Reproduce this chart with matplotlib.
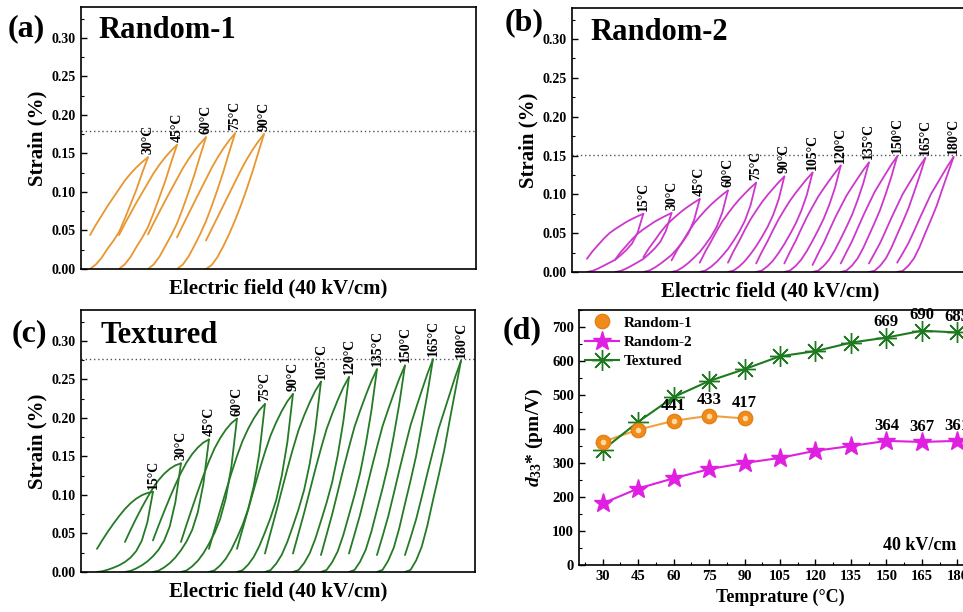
import matplotlib
matplotlib.use('Agg')
import matplotlib.pyplot as plt
import numpy as np
from matplotlib.ticker import MultipleLocator, FormatStrFormatter

plt.rcParams['font.family'] = ['Liberation Serif', 'DejaVu Serif']
plt.rcParams['font.weight'] = 'bold'
plt.rcParams['axes.labelweight'] = 'bold'
plt.rcParams['mathtext.fontset'] = 'custom'
plt.rcParams['mathtext.rm'] = 'Liberation Serif:bold'
plt.rcParams['mathtext.it'] = 'Liberation Serif:italic:bold'
plt.rcParams['mathtext.bf'] = 'Liberation Serif:bold'

# ---------------- data ----------------
# panel (a) Random-1
temps_a = [30, 45, 60, 75, 90]
peaks_a = [0.145, 0.161, 0.171, 0.176, 0.175]
remnant_a = [0.044, 0.044, 0.045, 0.041, 0.037]
level_a = 0.179

# panel (b) Random-2
temps_b = [15, 30, 45, 60, 75, 90, 105, 120, 135, 150, 165, 180]
peaks_b = [0.075, 0.076, 0.094, 0.105, 0.115, 0.123, 0.128, 0.137, 0.141, 0.149, 0.147, 0.148]
remnant_b = [0.017, 0.016, 0.019, 0.015, 0.012, 0.012, 0.011, 0.011, 0.009, 0.011, 0.011, 0.012]
level_b = 0.151

# panel (c) Textured
temps_c = [15, 30, 45, 60, 75, 90, 105, 120, 135, 150, 165, 180]
peaks_c = [0.104, 0.141, 0.172, 0.199, 0.218, 0.231, 0.247, 0.253, 0.263, 0.268, 0.276, 0.274]
remnant_c = [0.030, 0.039, 0.041, 0.039, 0.030, 0.030, 0.024, 0.024, 0.022, 0.024, 0.022, 0.022]
level_c = 0.276

# loop shapes (normalised field -> normalised strain)
field_grid = [0.0, 0.1, 0.2, 0.3, 0.4, 0.5, 0.6, 0.7, 0.8, 0.9, 1.0]
asc_a_low = [0, 0.04, 0.10, 0.18, 0.25, 0.33, 0.45, 0.58, 0.71, 0.86, 1.0]
asc_a_high = [0, 0.03, 0.09, 0.17, 0.26, 0.36, 0.47, 0.59, 0.72, 0.86, 1.0]
desc_a_low = [0, 0.13, 0.25, 0.37, 0.48, 0.59, 0.70, 0.79, 0.87, 0.94, 1.0]
desc_a_high = [0, 0.11, 0.22, 0.33, 0.44, 0.55, 0.66, 0.76, 0.85, 0.93, 1.0]
asc_b_low = [0, 0.02, 0.06, 0.11, 0.16, 0.21, 0.29, 0.38, 0.49, 0.68, 1.0]
desc_b_low = [0, 0.17, 0.31, 0.45, 0.57, 0.66, 0.74, 0.82, 0.885, 0.945, 1.0]
asc_c_low = [0, 0.01, 0.03, 0.055, 0.085, 0.125, 0.18, 0.26, 0.39, 0.62, 1.0]
desc_c_low = [0, 0.16, 0.31, 0.45, 0.58, 0.70, 0.80, 0.88, 0.94, 0.98, 1.0]
asc_high = [0, 0.01, 0.055, 0.12, 0.22, 0.34, 0.455, 0.575, 0.72, 0.86, 1.0]
desc_high = [0, 0.09, 0.185, 0.30, 0.42, 0.535, 0.65, 0.74, 0.83, 0.92, 1.0]

# panel (d)
temps_r1 = [30, 45, 60, 75, 90]
d33_r1 = [362, 398, 424, 439, 431]
temps_d = [30, 45, 60, 75, 90, 105, 120, 135, 150, 165, 180]
d33_r2 = [181, 225, 255, 282, 300, 315, 336, 350, 365, 362, 365]
d33_tex = [338, 421, 494, 541, 576, 614, 629, 654, 669, 689, 684]
ann_r1_T = [60, 75, 90]
ann_r1_txt = ['441', '433', '417']
ann_r2_T = [150, 165, 180]
ann_r2_txt = ['364', '367', '361']
ann_tex_T = [150, 165, 180]
ann_tex_txt = ['669', '690', '685']

# ---------------- figure ----------------
W, H = 963, 612
fig = plt.figure(figsize=(W / 100, H / 100), dpi=100)


def ax_px(l, t, r, b):
    return fig.add_axes([l / W, 1 - b / H, (r - l) / W, (b - t) / H])


LOOP_W = 2.0


def strain_panel(ax, temps, peaks, rems, asc_lo, asc_hi, desc_lo, desc_hi,
                 x_first, xmax, color, level):
    U = np.array(field_grid)
    n = len(temps)
    for i, (T, p, r) in enumerate(zip(temps, peaks, rems)):
        t = i / (n - 1)
        asc = (1 - t) * np.array(asc_lo) + t * np.array(asc_hi)
        desc = (1 - t) * np.array(desc_lo) + t * np.array(desc_hi)
        x0 = x_first + i
        xs = x0 + LOOP_W * U
        ax.plot(xs, p * asc, color=color, lw=1.3, solid_capstyle='round',
                solid_joinstyle='round')
        ax.plot(xs, r + (p - r) * desc, color=color, lw=1.3,
                solid_capstyle='round', solid_joinstyle='round')
        ax.text(x0 + LOOP_W, p + 0.004, f'{T}°C', rotation=90, ha='center',
                va='bottom', fontsize=10, fontweight='bold')
    ax.axhline(level, color='#555555', ls=(0, (1, 2)), lw=1.0)
    ax.set_xlim(0, xmax)
    ax.set_ylim(0, 0.34)
    ax.set_yticks([0, 0.05, 0.10, 0.15, 0.20, 0.25, 0.30])
    ax.yaxis.set_major_formatter(FormatStrFormatter('%.2f'))
    ax.yaxis.set_minor_locator(MultipleLocator(0.025))
    ax.tick_params(axis='y', which='major', direction='in', length=4, width=1,
                   labelsize=10, pad=4)
    ax.tick_params(axis='y', which='minor', direction='in', length=2, width=0.8)
    ax.set_xticks([])
    for s in ax.spines.values():
        s.set_linewidth(1.2)
    ax.set_ylabel('Strain (%)', fontsize=15, labelpad=3)
    ax.set_xlabel('Electric field (40 kV/cm)', fontsize=15, labelpad=7)


ax_a = ax_px(81, 7, 476, 269)
strain_panel(ax_a, temps_a, peaks_a, remnant_a, asc_a_low, asc_a_high,
             desc_a_low, desc_a_high, 0.31, 395 / 29, '#E8962E', level_a)

ax_b = ax_px(572, 8, 968, 272)
strain_panel(ax_b, temps_b, peaks_b, remnant_b, asc_b_low, asc_high,
             desc_b_low, desc_high, 0.53, 396 / 28.2, '#CC38CC', level_b)

ax_c = ax_px(81, 310, 475, 572)
strain_panel(ax_c, temps_c, peaks_c, remnant_c, asc_c_low, asc_high,
             desc_c_low, desc_high, 0.57, 394 / 28.0, '#257A25', level_c)

# panel (d)
ax_d = ax_px(579, 310, 981, 565)
ax_d.plot(temps_r1, d33_r1, '-', color='#F0A040', lw=1.5, zorder=3)
ax_d.plot(temps_r1, d33_r1, 'o', ms=10.5, mfc='#F08A1A', mec='#E07A10', mew=0.8,
          zorder=4, label='Random-1')
ax_d.plot(temps_r1, d33_r1, 'o', ms=4, mfc='#FFD9A0', mec='none', zorder=5)
ax_d.plot(temps_d, d33_r2, '-*', color='#E020E0', lw=1.5, ms=14, mec='#E020E0',
          zorder=4, label='Random-2')
ax_d.plot(temps_d, d33_tex, '-', color='#1E7A1E', lw=1.5, marker=(8, 2, 0), ms=15,
          mew=1.0, zorder=3, label='Textured')

for T, s in zip(ann_r1_T, ann_r1_txt):
    y = d33_r1[temps_r1.index(T)]
    ax_d.annotate(s, (T, y), xytext=(0, 11), textcoords='offset points',
                  ha='center', va='center', fontsize=12, fontweight='bold')
for T, s in zip(ann_r2_T, ann_r2_txt):
    y = d33_r2[temps_d.index(T)]
    ax_d.annotate(s, (T, y), xytext=(0, 11), textcoords='offset points',
                  ha='center', va='center', fontsize=12, fontweight='bold')
for T, s in zip(ann_tex_T, ann_tex_txt):
    y = d33_tex[temps_d.index(T)]
    ax_d.annotate(s, (T, y), xytext=(0, 11), textcoords='offset points',
                  ha='center', va='center', fontsize=12, fontweight='bold')

ax_d.text(164, 56, '40 kV/cm', ha='center', va='center', fontsize=13,
          fontweight='bold')
ax_d.set_xlim(20, 190)
ax_d.set_ylim(0, 750)
ax_d.set_xticks(temps_d)
ax_d.xaxis.set_minor_locator(MultipleLocator(7.5))
ax_d.set_yticks(range(0, 701, 100))
ax_d.yaxis.set_minor_locator(MultipleLocator(50))
ax_d.tick_params(which='major', direction='in', length=4, width=1, labelsize=10.5)
ax_d.tick_params(which='minor', direction='in', length=2, width=0.8)
for s in ax_d.spines.values():
    s.set_linewidth(1.2)
ax_d.set_ylabel(r'$d_{33}$* (pm/V)', fontsize=14, labelpad=5)
ax_d.set_xlabel('Temprature (°C)', fontsize=13, labelpad=4)
leg = ax_d.legend(loc='upper left', frameon=False, fontsize=11, handlelength=2.2,
                  borderaxespad=0.2, labelspacing=0.35, handletextpad=0.3,
                  borderpad=0.2)


# panel letters and titles
def ftext(x, y, s, size):
    fig.text(x / W, 1 - y / H, s, fontsize=size, fontweight='bold',
             ha='left', va='baseline')


ftext(8, 36, '(a)', 23)
ftext(98, 38, 'Random-1', 22)
ftext(505, 30, '(b)', 23)
ftext(590, 40, 'Random-2', 22)
ftext(12, 341, '(c)', 23)
ftext(100, 343, 'Textured', 22)
ftext(503, 338, '(d)', 23)

fig.savefig('out.png', dpi=100)
